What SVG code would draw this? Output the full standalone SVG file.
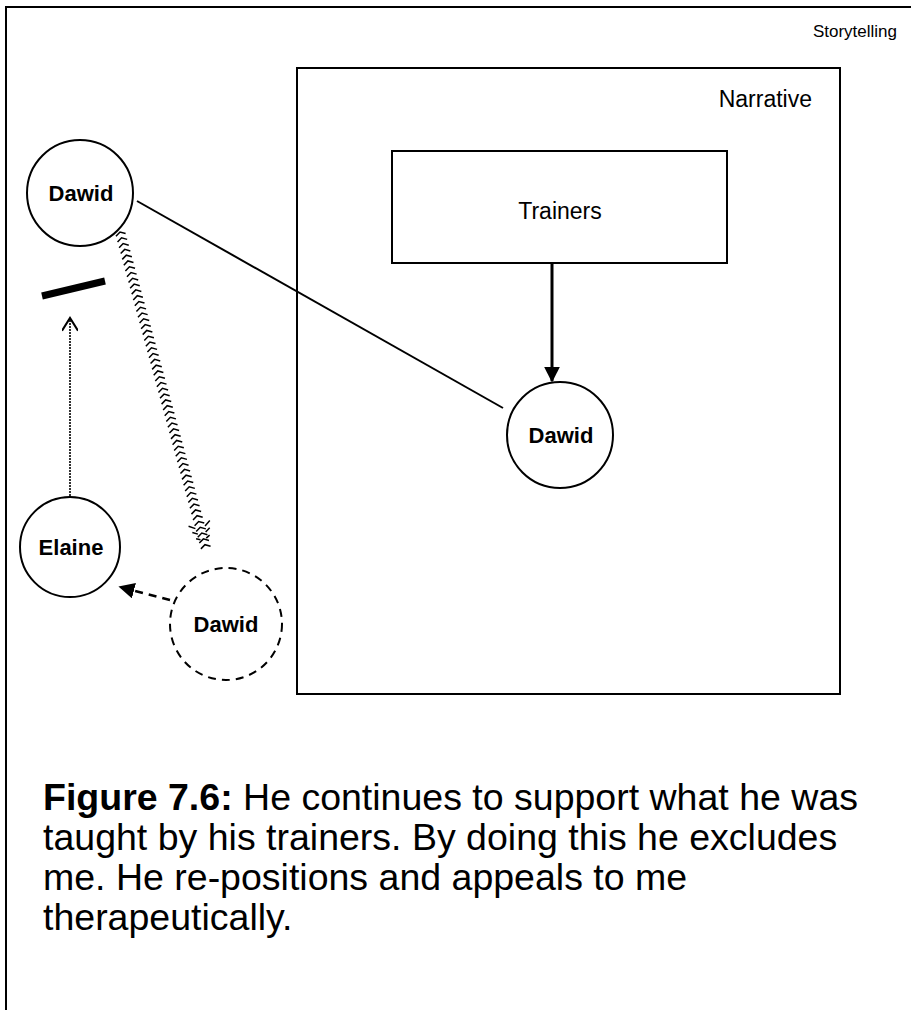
<svg xmlns="http://www.w3.org/2000/svg" width="911" height="1010" viewBox="0 0 911 1010">
<style>
text{font-family:"Liberation Sans",Arial,sans-serif;fill:#000}
.sm{font-size:17px}
.lbl{font-size:23px}
.b{font-weight:bold;font-size:22px}
.cap{font-size:37.5px}
.n{fill:#fff;stroke:#000;stroke-width:2}
</style>
<defs>
<marker id="fillB" viewBox="0 0 10 10" refX="9" refY="5" markerWidth="16" markerHeight="16" markerUnits="userSpaceOnUse" orient="auto"><path d="M0 0 L10 5 L0 10 z" fill="#000"/></marker>
<marker id="open" viewBox="0 0 10 10" refX="9" refY="5" markerWidth="16" markerHeight="16" markerUnits="userSpaceOnUse" orient="auto"><path d="M1 0 L9 5 L1 10" fill="none" stroke="#000" stroke-width="1.3"/></marker>
</defs>
<rect width="911" height="1010" fill="#fff"/>
<g id="frame">
<path d="M6 1010 V7 H911" fill="none" stroke="#000" stroke-width="2"/>
<text x="897" y="37" class="sm" text-anchor="end">Storytelling</text>
</g>
<g id="narrative">
<rect x="297" y="68" width="543" height="626" fill="none" stroke="#000" stroke-width="2"/>
<text x="812" y="107" class="lbl" text-anchor="end">Narrative</text>
</g>
<g id="connectors" fill="none" stroke="#000">
<line x1="137" y1="201" x2="503" y2="408" stroke-width="2"/>
<line x1="552" y1="263" x2="552" y2="381" stroke-width="3" marker-end="url(#fillB)"/>
<line x1="70" y1="496" x2="70" y2="318" stroke-width="1.6" stroke-dasharray="2 1" marker-end="url(#open)"/>
<line x1="170" y1="600" x2="120" y2="587" stroke-width="2.5" stroke-dasharray="8 6" marker-end="url(#fillB)"/>
<g transform="translate(120,232) rotate(-15.2)" stroke-width="1.5">
<path d="M-5 3 L0 0 L5 3 M-5 9 L0 6 L5 9 M-5 15 L0 12 L5 15 M-5 21 L0 18 L5 21 M-5 27 L0 24 L5 27 M-5 33 L0 30 L5 33 M-5 39 L0 36 L5 39 M-5 45 L0 42 L5 45 M-5 51 L0 48 L5 51 M-5 57 L0 54 L5 57 M-5 63 L0 60 L5 63 M-5 69 L0 66 L5 69 M-5 75 L0 72 L5 75 M-5 81 L0 78 L5 81 M-5 87 L0 84 L5 87 M-5 93 L0 90 L5 93 M-5 99 L0 96 L5 99 M-5 105 L0 102 L5 105 M-5 111 L0 108 L5 111 M-5 117 L0 114 L5 117 M-5 123 L0 120 L5 123 M-5 129 L0 126 L5 129 M-5 135 L0 132 L5 135 M-5 141 L0 138 L5 141 M-5 147 L0 144 L5 147 M-5 153 L0 150 L5 153 M-5 159 L0 156 L5 159 M-5 165 L0 162 L5 165 M-5 171 L0 168 L5 171 M-5 177 L0 174 L5 177 M-5 183 L0 180 L5 183 M-5 189 L0 186 L5 189 M-5 195 L0 192 L5 195 M-5 201 L0 198 L5 201 M-5 207 L0 204 L5 207 M-5 213 L0 210 L5 213 M-5 219 L0 216 L5 219 M-5 225 L0 222 L5 225 M-5 231 L0 228 L5 231 M-5 237 L0 234 L5 237 M-5 243 L0 240 L5 243 M-5 249 L0 246 L5 249 M-5 255 L0 252 L5 255 M-5 261 L0 258 L5 261 M-5 267 L0 264 L5 267 M-5 273 L0 270 L5 273 M-5 279 L0 276 L5 279 M-5 285 L0 282 L5 285 M-5 291 L0 288 L5 291 M-5 297 L0 294 L5 297 M-5 303 L0 300 L5 303 M-5 309 L0 306 L5 309 M-5 315 L0 312 L5 315 M-5 321 L0 318 L5 321 M-5 327 L0 324 L5 327"/>
<path d="M-11 302 L-5 306 M11 302 L5 306 M-9 309 L-4 312 M9 309 L4 312 M-7 316 L-3 318 M7 316 L3 318"/>
</g>
<line x1="42" y1="296" x2="105" y2="281" stroke-width="7"/>
</g>
<g id="trainers">
<rect x="392" y="151" width="335" height="112" fill="#fff" stroke="#000" stroke-width="2"/>
<text x="560" y="219" class="lbl" text-anchor="middle">Trainers</text>
</g>
<g id="dawid1">
<circle cx="80" cy="193" r="53" class="n"/>
<text x="81" y="201" class="b" text-anchor="middle">Dawid</text>
</g>
<g id="dawid2">
<circle cx="560" cy="435" r="53" class="n"/>
<text x="561" y="443" class="b" text-anchor="middle">Dawid</text>
</g>
<g id="elaine">
<circle cx="70" cy="547" r="50" class="n"/>
<text x="71" y="555" class="b" text-anchor="middle">Elaine</text>
</g>
<g id="dawid3">
<circle cx="226" cy="624" r="56" fill="#fff" stroke="#000" stroke-width="2" stroke-dasharray="8 6"/>
<text x="226" y="632" class="b" text-anchor="middle">Dawid</text>
</g>
<g id="caption">
<text x="43" y="810" class="cap"><tspan font-weight="bold">Figure 7.6:</tspan> He continues to support what he was</text>
<text x="43" y="850" class="cap">taught by his trainers. By doing this he excludes</text>
<text x="43" y="890" class="cap">me. He re-positions and appeals to me</text>
<text x="43" y="930" class="cap">therapeutically.</text>
</g>
</svg>
